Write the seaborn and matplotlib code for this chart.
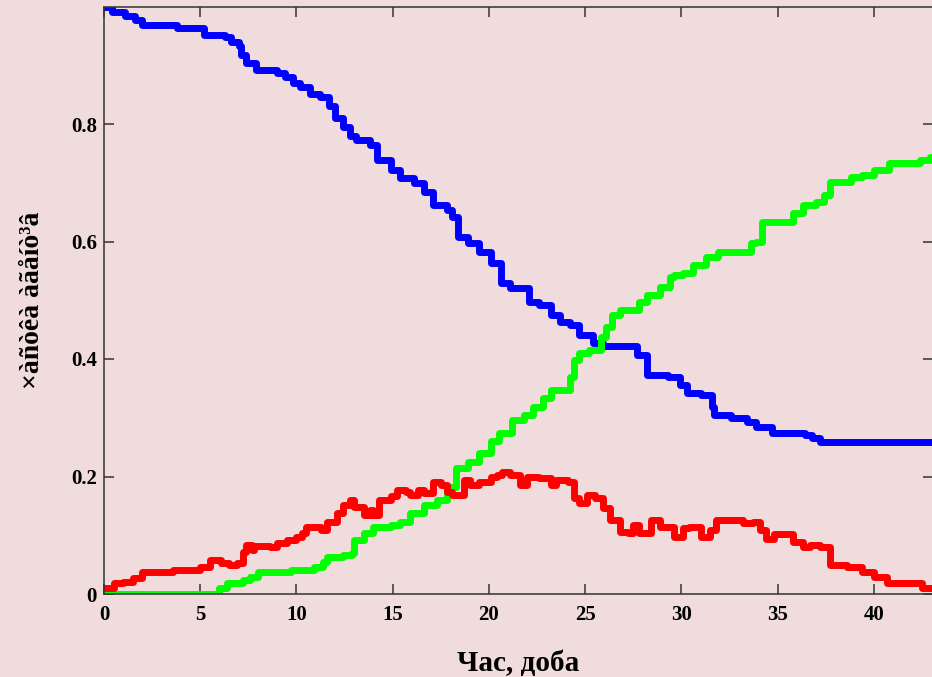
import matplotlib
matplotlib.use("Agg")
import matplotlib.pyplot as plt
import seaborn as sns
import pandas as pd

# Time axis (days) and the share of each agent group, step-wise
blue_t = [0.0, 0.4, 1.1, 1.6, 2.0, 3.8, 5.2, 6.3, 6.6, 7.0,
          7.1, 7.4, 7.9, 9.0, 9.4, 9.8, 10.2, 10.7, 11.2, 11.7,
          12.0, 12.4, 12.8, 13.1, 13.8, 14.2, 14.9, 15.4, 16.1, 16.6,
          17.1, 17.8, 18.1, 18.4, 18.9, 19.5, 20.1, 20.6, 21.1, 22.1,
          22.6, 23.2, 23.7, 24.2, 24.7, 25.4, 25.9, 27.7, 28.2, 29.3,
          29.9, 30.3, 31.0, 31.6, 31.7, 32.6, 33.4, 33.9, 34.7, 36.4,
          36.8, 37.2, 43.1]
blue_v = [1.000, 0.990, 0.984, 0.977, 0.969, 0.963, 0.951, 0.948, 0.940, 0.933,
          0.917, 0.904, 0.892, 0.886, 0.880, 0.870, 0.863, 0.851, 0.846, 0.830,
          0.810, 0.795, 0.780, 0.773, 0.764, 0.739, 0.722, 0.708, 0.700, 0.684,
          0.662, 0.654, 0.642, 0.608, 0.597, 0.582, 0.563, 0.529, 0.521, 0.497,
          0.492, 0.475, 0.463, 0.458, 0.441, 0.427, 0.422, 0.407, 0.373, 0.369,
          0.356, 0.342, 0.339, 0.318, 0.305, 0.300, 0.293, 0.284, 0.274, 0.271,
          0.266, 0.259, 0.259]

green_t = [0.0, 5.9, 6.0, 6.4, 7.2, 7.6, 8.0, 9.7, 10.9, 11.4,
           11.6, 12.4, 12.9, 13.0, 13.5, 14.0, 14.9, 15.4, 15.9, 16.6,
           17.3, 17.8, 18.3, 18.9, 19.5, 20.1, 20.5, 21.2, 21.8, 22.3,
           22.8, 23.2, 24.2, 24.4, 24.7, 25.2, 25.8, 26.1, 26.4, 26.8,
           27.8, 28.2, 28.9, 29.4, 29.6, 30.1, 30.6, 31.3, 31.9, 33.6,
           33.9, 34.2, 35.8, 36.3, 37.0, 37.4, 37.7, 38.8, 39.4, 40.0,
           40.8, 42.4, 42.9, 43.1]
green_v = [0.000, 0.003, 0.010, 0.019, 0.024, 0.029, 0.037, 0.041, 0.046, 0.054,
           0.063, 0.066, 0.070, 0.092, 0.104, 0.114, 0.118, 0.123, 0.138, 0.152,
           0.160, 0.182, 0.214, 0.225, 0.240, 0.260, 0.274, 0.296, 0.305, 0.318,
           0.334, 0.347, 0.369, 0.398, 0.410, 0.415, 0.437, 0.454, 0.475, 0.483,
           0.497, 0.509, 0.523, 0.540, 0.543, 0.546, 0.560, 0.574, 0.582, 0.597,
           0.600, 0.633, 0.648, 0.662, 0.667, 0.679, 0.701, 0.710, 0.713, 0.722,
           0.734, 0.739, 0.744, 0.744]

red_t = [0.0, 0.5, 1.0, 1.5, 2.0, 3.6, 5.0, 5.5, 5.9, 6.1,
         6.5, 6.9, 7.2, 7.4, 7.7, 7.8, 8.6, 9.0, 9.5, 10.0,
         10.3, 10.5, 11.0, 11.3, 11.6, 12.1, 12.4, 12.8, 13.0, 13.5,
         13.8, 14.0, 14.3, 14.9, 15.2, 15.7, 15.9, 16.3, 16.6, 17.1,
         17.5, 17.8, 18.1, 18.7, 19.0, 19.5, 20.1, 20.4, 20.7, 21.1,
         21.6, 22.0, 22.6, 23.2, 23.5, 24.1, 24.4, 24.7, 25.1, 25.5,
         25.9, 26.3, 26.8, 27.2, 27.5, 27.8, 28.4, 28.9, 29.6, 30.1,
         30.4, 31.0, 31.5, 31.8, 32.7, 33.2, 33.7, 34.1, 34.4, 34.8,
         35.8, 36.3, 36.7, 37.2, 37.7, 38.6, 39.4, 40.0, 40.7, 42.0,
         42.5, 43.1]
red_v = [0.010, 0.019, 0.020, 0.027, 0.037, 0.041, 0.046, 0.058, 0.058, 0.053,
         0.049, 0.053, 0.072, 0.083, 0.075, 0.082, 0.080, 0.087, 0.092, 0.097,
         0.104, 0.114, 0.114, 0.109, 0.123, 0.138, 0.152, 0.160, 0.148, 0.134,
         0.143, 0.134, 0.160, 0.167, 0.177, 0.174, 0.169, 0.177, 0.172, 0.191,
         0.186, 0.174, 0.169, 0.194, 0.186, 0.190, 0.199, 0.203, 0.208, 0.203,
         0.186, 0.199, 0.197, 0.186, 0.194, 0.191, 0.163, 0.155, 0.169, 0.163,
         0.146, 0.126, 0.106, 0.104, 0.117, 0.104, 0.126, 0.114, 0.097, 0.112,
         0.114, 0.097, 0.109, 0.126, 0.126, 0.121, 0.123, 0.109, 0.094, 0.102,
         0.089, 0.080, 0.083, 0.080, 0.049, 0.046, 0.037, 0.029, 0.019, 0.019,
         0.010, 0.010]

x_ticks = [0, 5, 10, 15, 20, 25, 30, 35, 40]
y_ticks = [0, 0.2, 0.4, 0.6, 0.8]
y_tick_labels = ["0", "0.2", "0.4", "0.6", "0.8"]
x_label = "Час, доба"
y_label = "×àñòêà àãåíò³â"

BG = "#f0dcdc"
sns.set_theme(style="ticks")
plt.rcParams["font.family"] = ["Liberation Serif", "DejaVu Serif"]
plt.rcParams["font.weight"] = "bold"

fig = plt.figure(figsize=(9.32, 6.77), dpi=100, facecolor=BG)
ax = fig.add_axes([104 / 932, 83 / 677, 829 / 932, 587.5 / 677])
ax.set_facecolor(BG)

for t, v, c in [(blue_t, blue_v, "#0000ff"),
                (green_t, green_v, "#00ff00"),
                (red_t, red_v, "#ff0000")]:
    df = pd.DataFrame({"t": t, "v": v})
    sns.lineplot(data=df, x="t", y="v", ax=ax, color=c, linewidth=5,
                 drawstyle="steps-post", estimator=None, sort=False)

ax.set_xlim(0, 43.07)
ax.set_ylim(0, 1.0)
ax.set_xticks(x_ticks)
ax.set_xticklabels([str(x) for x in x_ticks])
ax.set_yticks(y_ticks)
ax.set_yticklabels(y_tick_labels)

for s in ax.spines.values():
    s.set_color("#333333")
    s.set_linewidth(1.1)
    s.set_visible(True)

ax.tick_params(axis="both", direction="in", length=7, width=1.1,
               color="#333333", labelsize=15, top=True, right=True,
               labelcolor="black")
ax.tick_params(axis="x", pad=8)
ax.tick_params(axis="y", pad=5)
for lbl in ax.get_xticklabels() + ax.get_yticklabels():
    lbl.set_fontweight("bold")

ax.set_xlabel(x_label, fontsize=21, fontweight="bold", color="black")
ax.set_ylabel(y_label, fontsize=20, fontweight="bold", color="black")
ax.xaxis.set_label_coords(0.5, -0.095)
ax.yaxis.set_label_coords(-0.071, 0.5)

fig.savefig("out.png", dpi=100, facecolor=BG)
